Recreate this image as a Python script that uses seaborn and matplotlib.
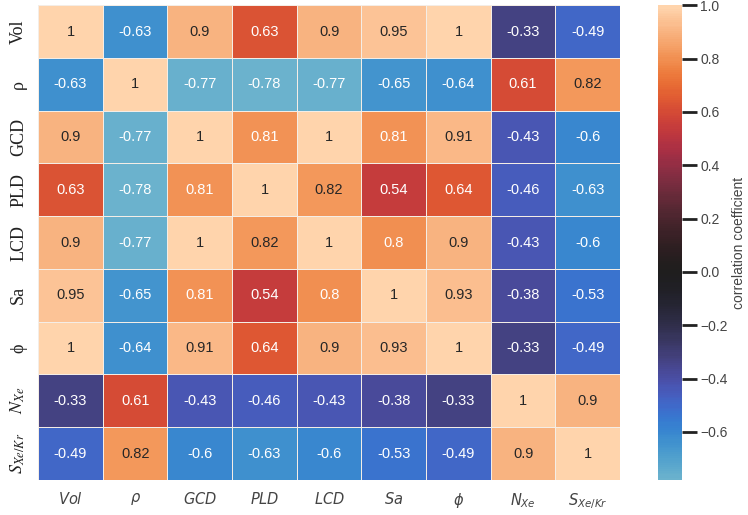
import numpy as np
import pandas as pd
import matplotlib
matplotlib.use('Agg')
import matplotlib.pyplot as plt
import seaborn as sns

# variaveis (linhas / colunas)
nomes = ['Vol', 'rho', 'GCD', 'PLD', 'LCD', 'Sa', 'phi', 'NXe', 'SXeKr']
rotulos_y = ['Vol', 'ρ', 'GCD', 'PLD', 'LCD', 'Sa', 'ϕ', r'$N_{Xe}$', r'$S_{Xe/Kr}$']
rotulos_x = [r'$Vol$', r'$\rho$', r'$GCD$', r'$PLD$', r'$LCD$', r'$Sa$', r'$\phi$',
             r'$N_{Xe}$', r'$S_{Xe/Kr}$']

corr_vol = [1, -0.63, 0.9, 0.63, 0.9, 0.95, 1, -0.33, -0.49]
corr_rho = [-0.63, 1, -0.77, -0.78, -0.77, -0.65, -0.64, 0.61, 0.82]
corr_gcd = [0.9, -0.77, 1, 0.81, 1, 0.81, 0.91, -0.43, -0.6]
corr_pld = [0.63, -0.78, 0.81, 1, 0.82, 0.54, 0.64, -0.46, -0.63]
corr_lcd = [0.9, -0.77, 1, 0.82, 1, 0.8, 0.9, -0.43, -0.6]
corr_sa = [0.95, -0.65, 0.81, 0.54, 0.8, 1, 0.93, -0.38, -0.53]
corr_phi = [1, -0.64, 0.91, 0.64, 0.9, 0.93, 1, -0.33, -0.49]
corr_nxe = [-0.33, 0.61, -0.43, -0.46, -0.43, -0.38, -0.33, 1, 0.9]
corr_sel = [-0.49, 0.82, -0.6, -0.63, -0.6, -0.53, -0.49, 0.9, 1]

tabela = pd.DataFrame([corr_vol, corr_rho, corr_gcd, corr_pld, corr_lcd,
                       corr_sa, corr_phi, corr_nxe, corr_sel],
                      index=nomes, columns=nomes)

sns.set_theme(style='white')
plt.rcParams['font.family'] = ['Liberation Sans', 'DejaVu Sans']

fig = plt.figure(figsize=(7.48, 5.15), dpi=100)
ax = fig.add_axes([0.051, 0.068, 0.778, 0.922])
cax = fig.add_axes([0.880, 0.068, 0.032, 0.922])

sns.heatmap(tabela, ax=ax, cbar_ax=cax, cmap='icefire', center=0,
            annot=True, annot_kws={'fontsize': 10.5},
            linewidths=0.6, linecolor='#f4ede6',
            cbar_kws={'label': 'correlation coefficient'})

ax.set_xticks(np.arange(len(nomes)) + 0.5)
ax.set_xticklabels(rotulos_x, rotation=0, fontsize=10.5, color='#444444')
for t in ax.get_xticklabels():
    t.set_math_fontfamily('dejavusans')
ax.set_yticks(np.arange(len(nomes)) + 0.5)
ax.set_yticklabels(rotulos_y, rotation=90, va='center', fontsize=13,
                   family='Liberation Serif', color='#222222')
for t in ax.get_yticklabels():
    t.set_math_fontfamily('stix')
ax.tick_params(axis='x', length=0, pad=8)
ax.tick_params(axis='y', length=0, pad=8)

cax.tick_params(length=11, width=2, color='#222222', labelsize=10,
                labelcolor='#444444', pad=2)
cax.set_ylabel('correlation coefficient', fontsize=10, color='#444444', labelpad=3)
cax.set_yticks([-0.6, -0.4, -0.2, 0.0, 0.2, 0.4, 0.6, 0.8, 1.0])

fig.savefig('out.png', dpi=100)
